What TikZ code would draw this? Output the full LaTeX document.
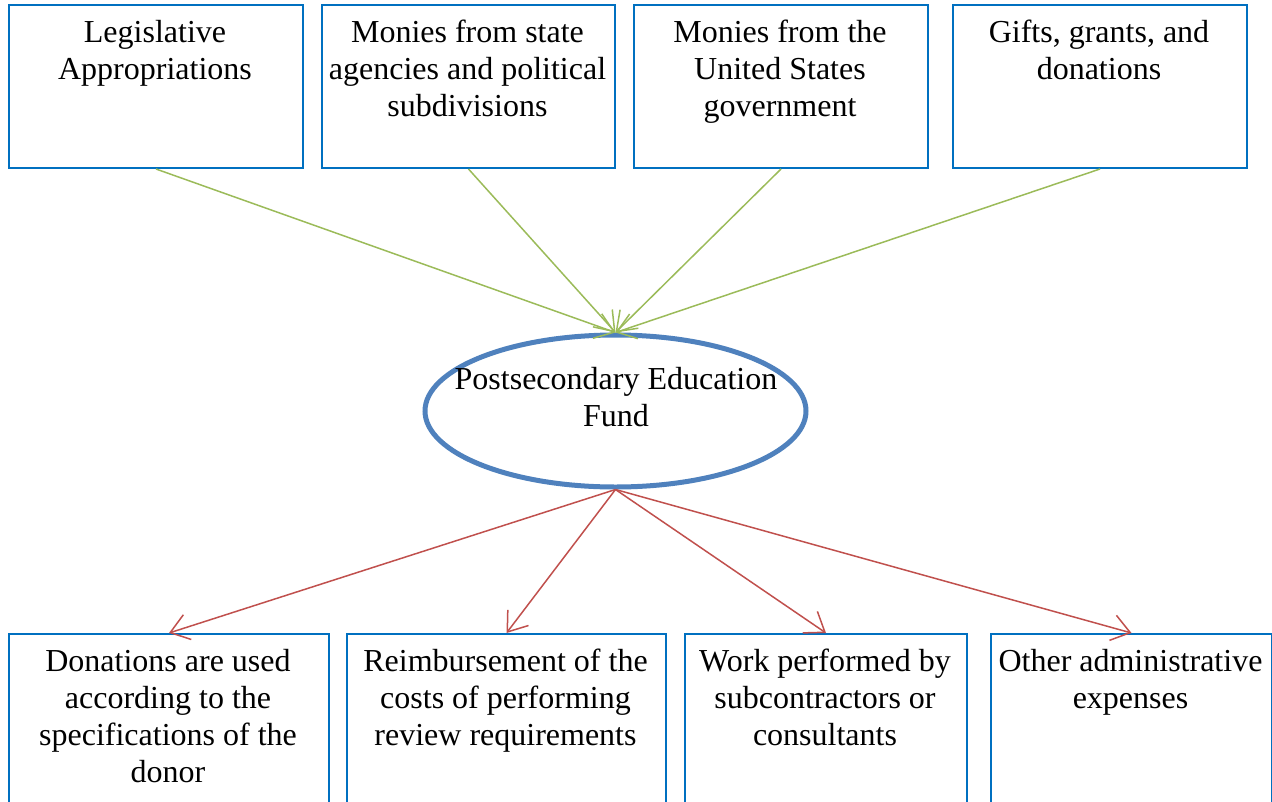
\documentclass[tikz,border=0pt]{standalone}
\usepackage{fontspec}
\setmainfont{Liberation Serif}
\usetikzlibrary{shapes.geometric,arrows.meta}
\definecolor{boxblue}{RGB}{0,112,192}
\definecolor{ellblue}{RGB}{79,129,189}
\definecolor{ingreen}{RGB}{155,187,89}
\definecolor{outred}{RGB}{192,80,77}
\begin{document}
\begin{tikzpicture}[x=1pt,y=-1pt,
  srcbox/.style={draw=boxblue, line width=2pt, rectangle, inner sep=0pt, anchor=north west, minimum height=163pt},
  dstbox/.style={draw=boxblue, line width=2pt, rectangle, inner sep=0pt, anchor=north west, minimum height=250pt},
  txt/.style={inner sep=0pt, anchor=base, font=\fontsize{32}{37}\selectfont},
  inarrow/.style={draw=ingreen, line width=1.5pt, -{Straight Barb[length=18pt,width=26pt]}},
  outarrow/.style={draw=outred, line width=1.5pt, -{Straight Barb[length=18pt,width=26pt]}},
  fundell/.style={draw=ellblue, line width=5pt, ellipse, inner sep=0pt, minimum width=381pt, minimum height=152pt}
]
\useasboundingbox (0,0) rectangle (1272,801);
\clip (0,0) rectangle (1272,801);

% source boxes
\node[srcbox, minimum width=294pt] (s1) at (8,4) {};
\node[srcbox, minimum width=293pt] (s2) at (321,4) {};
\node[srcbox, minimum width=294pt] (s3) at (633,4) {};
\node[srcbox, minimum width=294pt] (s4) at (952,4) {};

\node[txt] (t1) at (155,42) {\parbox[t]{330pt}{\centering Legislative\\Appropriations}};
\node[txt] (t2) at (467.5,42) {\parbox[t]{330pt}{\centering Monies from state\\agencies and political\\subdivisions}};
\node[txt] (t3) at (780,42) {\parbox[t]{330pt}{\centering Monies from the\\United States\\government}};
\node[txt] (t4) at (1099,42) {\parbox[t]{330pt}{\centering Gifts, grants, and\\donations}};

% fund
\node[fundell] (fund) at (615.5,411) {};
\node[txt] (ft) at (616,389) {\parbox[t]{400pt}{\centering Postsecondary Education\\Fund}};

% destination boxes
\node[dstbox, minimum width=320pt] (d1) at (8,633) {};
\node[dstbox, minimum width=319pt] (d2) at (346,633) {};
\node[dstbox, minimum width=282pt] (d3) at (684,633) {};
\node[dstbox, minimum width=281pt] (d4) at (990,633) {};

\node[txt] (u1) at (168,671) {\parbox[t]{330pt}{\centering Donations are used\\according to the\\specifications of the\\donor}};
\node[txt] (u2) at (505.5,671) {\parbox[t]{330pt}{\centering Reimbursement of the\\costs of performing\\review requirements}};
\node[txt] (u3) at (825,671) {\parbox[t]{330pt}{\centering Work performed by\\subcontractors or\\consultants}};
\node[txt] (u4) at (1130.5,671) {\parbox[t]{330pt}{\centering Other administrative\\expenses}};

% connectors
\foreach \s in {s1,s2,s3,s4} \draw[inarrow] (\s.south) -- (fund.north);
\foreach \d in {d1,d2,d3,d4} \draw[outarrow] (fund.south) -- (\d.north);
\end{tikzpicture}
\end{document}
